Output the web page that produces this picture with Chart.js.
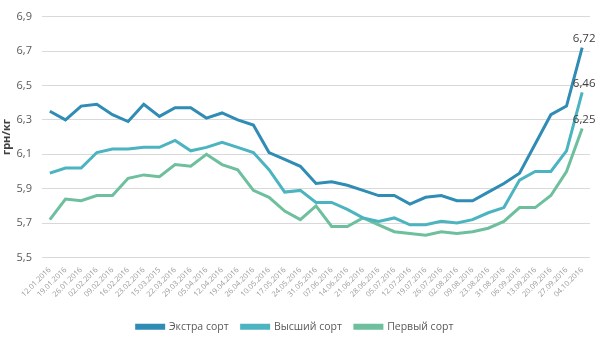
<!DOCTYPE html>
<html>
<head>
<meta charset="utf-8">
<script src="https://cdn.jsdelivr.net/npm/chart.js"></script>
<style>
  html, body { margin: 0; padding: 0; background: #fff; }
  #chart { display: block; }
</style>
</head>
<body>
<canvas id="chart" width="600" height="344"></canvas>
<script>
// dates as printed on the source chart (the 15.03.2015 typo is in the original)
var dates = [
  "12.01.2016", "19.01.2016", "26.01.2016", "02.02.2016", "09.02.2016", "16.02.2016",
  "23.02.2016", "15.03.2015", "22.03.2016", "29.03.2016", "05.04.2016", "12.04.2016",
  "19.04.2016", "26.04.2016", "10.05.2016", "17.05.2016", "24.05.2016", "31.05.2016",
  "07.06.2016", "14.06.2016", "21.06.2016", "28.06.2016", "05.07.2016", "12.07.2016",
  "19.07.2016", "26.07.2016", "02.08.2016", "09.08.2016", "23.08.2016", "31.08.2016",
  "06.09.2016", "13.09.2016", "20.09.2016", "27.09.2016", "04.10.2016"
];

var extra = [
  6.35, 6.30, 6.38, 6.39, 6.33, 6.29, 6.39, 6.32, 6.37, 6.37, 6.31, 6.34,
  6.30, 6.27, 6.11, 6.07, 6.03, 5.93, 5.94, 5.92, 5.89, 5.86, 5.86, 5.81,
  5.85, 5.86, 5.83, 5.83, 5.88, 5.93, 5.99, 6.16, 6.33, 6.38, 6.72
];

var highest = [
  5.99, 6.02, 6.02, 6.11, 6.13, 6.13, 6.14, 6.14, 6.18, 6.12, 6.14, 6.17,
  6.14, 6.11, 6.01, 5.88, 5.89, 5.82, 5.82, 5.78, 5.73, 5.71, 5.73, 5.69,
  5.69, 5.71, 5.70, 5.72, 5.76, 5.79, 5.95, 6.00, 6.00, 6.12, 6.46
];

var first = [
  5.72, 5.84, 5.83, 5.86, 5.86, 5.96, 5.98, 5.97, 6.04, 6.03, 6.10, 6.04,
  6.01, 5.89, 5.85, 5.77, 5.72, 5.80, 5.68, 5.68, 5.73, 5.69, 5.65, 5.64,
  5.63, 5.65, 5.64, 5.65, 5.67, 5.71, 5.79, 5.79, 5.86, 6.00, 6.25
];

var seriesNames = ["Экстра сорт", "Высший сорт", "Первый сорт"];
var colors = ["#2f8cb4", "#4bb4c0", "#6dbf9d"];

var FONT = "'Open Sans', 'DejaVu Sans', sans-serif";

function fmt(v) {
  return v.toFixed(2).replace(".", ",");
}

// value label above the last point of every line
var lastLabels = {
  id: "lastLabels",
  afterDatasetsDraw: function(chart) {
    var ctx = chart.ctx;
    ctx.save();
    ctx.font = "11.5px " + FONT;
    ctx.fillStyle = "#404040";
    ctx.textAlign = "center";
    ctx.textBaseline = "bottom";
    chart.data.datasets.forEach(function(ds, i) {
      var meta = chart.getDatasetMeta(i);
      var n = ds.data.length - 1;
      var pt = meta.data[n];
      ctx.fillText(fmt(ds.data[n]), pt.x + 2, pt.y - 3);
    });
    ctx.restore();
  }
};

var sets = [extra, highest, first].map(function(d, i) {
  return {
    label: seriesNames[i],
    data: d,
    borderColor: colors[i],
    backgroundColor: colors[i],
    borderWidth: 3,
    pointRadius: 0,
    tension: 0,
    fill: false
  };
});

new Chart(document.getElementById("chart"), {
  type: "line",
  data: { labels: dates, datasets: sets },
  plugins: [lastLabels],
  options: {
    responsive: false,
    animation: false,
    layout: { padding: { top: 15, right: 10, left: 0, bottom: 2 } },
    plugins: {
      tooltip: { enabled: false },
      legend: {
        position: "bottom",
        labels: {
          boxWidth: 27,
          boxHeight: 3,
          padding: 13,
          color: "#595959",
          font: { family: FONT, size: 10.5 }
        }
      }
    },
    scales: {
      x: {
        offset: true,
        grid: { display: false },
        border: { display: false },
        ticks: {
          autoSkip: false,
          minRotation: 45,
          maxRotation: 45,
          padding: 0,
          color: "#999999",
          font: { family: FONT, size: 7.5 }
        },
        afterFit: function(s) { s.height = 51; }
      },
      y: {
        min: 5.5,
        max: 6.9,
        border: { display: false },
        grid: { color: "#d9d9d9", drawTicks: false },
        ticks: {
          stepSize: 0.2,
          padding: 10,
          color: "#595959",
          font: { family: FONT, size: 11 },
          callback: function(v) { return v.toFixed(1).replace(".", ","); }
        },
        title: {
          display: true,
          text: "грн/кг",
          color: "#404040",
          padding: 0,
          font: { family: FONT, size: 11, weight: "bold" }
        },
        afterFit: function(s) { s.width = 42; }
      }
    }
  }
});
</script>
</body>
</html>
